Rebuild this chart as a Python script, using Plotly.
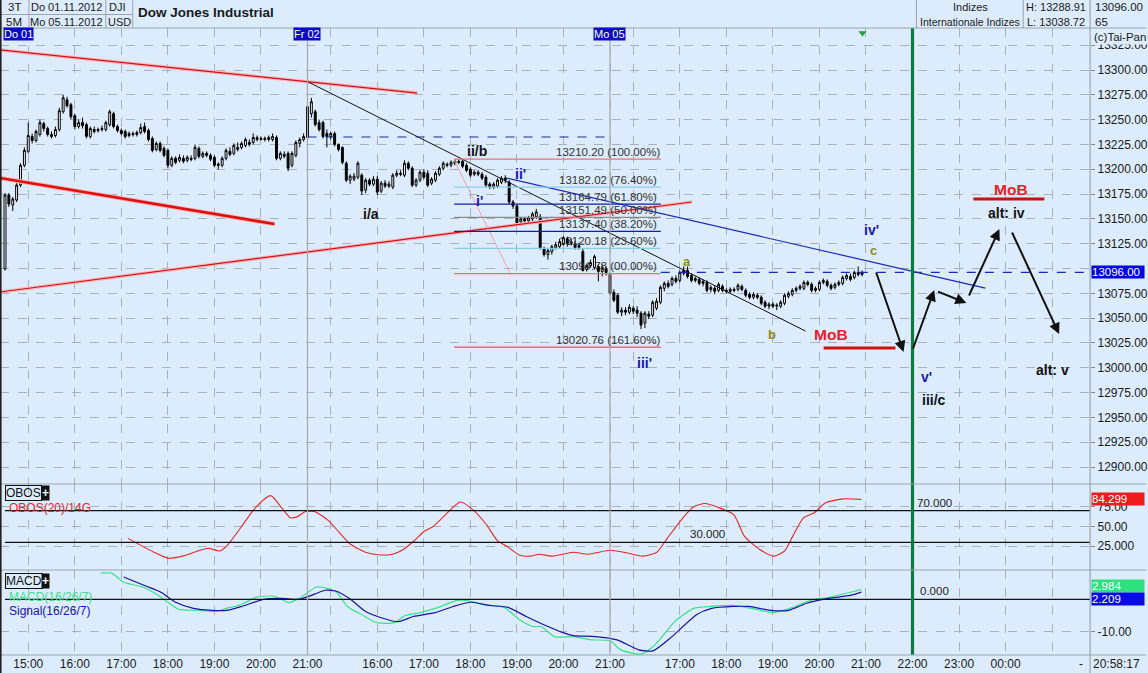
import plotly.graph_objects as go

# ======================= DATA =======================
# 5-minute bars, index 0 = Do 01.11.2012 14:30 ; 78 bars per session
D1_OPEN = [13099.5,13174,13164,13169,13184,13204,13218,13233,13229,13235,13246,13241,13235,13234,13240,13258,13270,13265,13254,13243,
           13247,13245,13233,13240,13239,13240,13240,13245,13256,13243,13239,13238,13234,13236,13235,13237,13243,13239,13231,13220,
           13226,13221,13219,13204,13211,13209,13211,13209,13211,13211,13221,13213,13216,13214,13212,13205,13204,13211,13218,13216,
           13222,13222,13224,13227,13227,13232,13230,13231,13230,13230,13232,13211,13215,13216,13204,13214,13226,13230]
D1_HIGH = [13176,13176,13172,13186,13206,13222,13247,13236,13240,13250,13248,13243,13238,13243,13262,13275,13273,13267,13256,13250,
           13252,13247,13243,13243,13242,13244,13249,13260,13258,13245,13241,13240,13238,13238,13239,13246,13247,13241,13233,13228,
           13228,13223,13221,13213,13213,13215,13214,13214,13214,13225,13223,13218,13218,13216,13214,13207,13213,13221,13222,13226,
           13227,13228,13232,13230,13236,13234,13233,13233,13234,13236,13234,13218,13218,13218,13218,13229,13232,13236]
D1_LOW = [13098,13162,13158,13167,13182,13202,13216,13226,13227,13233,13238,13233,13231,13232,13238,13256,13262,13250,13240,13241,
          13241,13231,13231,13236,13237,13238,13238,13243,13241,13237,13234,13231,13232,13233,13233,13235,13236,13228,13217,13218,
          13217,13212,13201,13202,13205,13207,13206,13207,13208,13209,13211,13211,13212,13208,13202,13200,13202,13209,13213,13214,
          13218,13220,13222,13223,13225,13228,13229,13228,13228,13228,13209,13209,13211,13198,13202,13212,13222,13228]
D1_CLOSE = [13174,13165,13170,13184,13204,13219,13234,13229,13238,13247,13241,13235,13233,13240,13259,13272,13264,13253,13243,13247,
            13244,13233,13241,13238,13240,13241,13247,13258,13243,13239,13236,13233,13236,13235,13237,13242,13238,13230,13219,13226,
            13219,13214,13204,13211,13207,13212,13208,13212,13210,13222,13213,13216,13214,13210,13204,13204,13211,13219,13215,13224,
            13220,13226,13230,13225,13232,13230,13231,13230,13232,13233,13211,13216,13213,13201,13216,13227,13230,13233]

D2_OPEN = [13232,13256,13258,13247,13247,13236,13233,13236,13225,13222,13206,13189,13190,13192,13194,13179,13189,13185,13190,13178,
           13186,13183,13182,13194,13196,13194,13206,13201,13184,13189,13197,13196,13186,13189,13195,13201,13205,13204,13206,13208,
           13208,13204,13200,13195,13197,13195,13192,13185,13182,13183,13187,13191,13187,13167,13163,13147,13150,13148,13150,13152,
           13152,13120,13114,13117,13121,13122,13125,13130,13125,13125,13121,13117,13099,13103,13101,13102,13097,13100]
D2_HIGH = [13289,13272,13260,13250,13249,13240,13238,13238,13226,13223,13208,13195,13196,13208,13196,13191,13191,13193,13193,13188,
           13189,13188,13196,13199,13199,13209,13208,13203,13191,13199,13200,13199,13192,13198,13203,13208,13207,13209,13210,13210,
           13210,13206,13202,13199,13199,13197,13194,13187,13187,13191,13193,13194,13189,13169,13165,13152,13152,13153,13157,13160,
           13155,13122,13120,13124,13127,13130,13133,13132,13130,13128,13126,13120,13105,13109,13114,13104,13104,13102]
D2_LOW = [13230,13252,13243,13238,13231,13222,13230,13223,13218,13205,13187,13185,13188,13190,13174,13176,13183,13183,13174,13176,
          13181,13181,13180,13192,13193,13192,13199,13182,13182,13187,13190,13182,13184,13187,13193,13199,13202,13202,13204,13205,
          13201,13197,13192,13193,13193,13189,13182,13180,13180,13181,13185,13186,13165,13160,13144,13145,13146,13146,13148,13150,
          13119,13112,13109,13114,13119,13120,13123,13122,13123,13119,13119,13097,13097,13101,13099,13087,13092,13093]
D2_CLOSE = [13263,13268,13245,13240,13233,13233,13236,13225,13220,13207,13189,13193,13193,13206,13178,13189,13185,13190,13177,13186,
            13183,13185,13194,13196,13195,13206,13201,13184,13189,13197,13192,13184,13190,13196,13201,13206,13204,13207,13208,13207,
            13203,13199,13194,13197,13195,13191,13184,13182,13185,13189,13191,13189,13167,13163,13146,13150,13148,13151,13155,13157,
            13121,13114,13118,13122,13124,13127,13131,13125,13127,13121,13123,13098,13103,13106,13112,13097,13101,13096]

D3_OPEN = [13094,13076,13073,13056,13058,13056,13060,13058,13055,13045,13054,13053,13060,13066,13080,13085,13084,13090,13088,13095,
           13098,13093,13088,13089,13085,13086,13079,13080,13078,13082,13078,13077,13079,13079,13082,13078,13074,13071,13073,13071,
           13066,13062,13064,13062,13062,13065,13072,13074,13078,13080,13080,13086,13084,13078,13079,13086,13087,13083,13081,13084,
           13085,13090,13092,13091,13096,13094]
D3_HIGH = [13096,13079,13075,13061,13061,13064,13062,13062,13057,13057,13057,13068,13070,13083,13087,13088,13092,13093,13098,13102,
           13102,13095,13092,13091,13089,13088,13083,13083,13086,13084,13080,13081,13081,13085,13084,13080,13076,13076,13075,13073,
           13068,13066,13066,13065,13068,13075,13077,13080,13082,13084,13088,13088,13086,13082,13088,13090,13089,13085,13086,13088,
           13093,13095,13095,13098,13102,13098]
D3_LOW = [13073,13066,13054,13052,13053,13054,13054,13051,13039,13040,13049,13051,13058,13064,13077,13080,13082,13085,13086,13093,
          13090,13086,13086,13083,13082,13076,13076,13074,13076,13076,13075,13075,13076,13077,13077,13071,13069,13069,13069,13063,
          13060,13059,13060,13058,13060,13063,13070,13072,13076,13078,13078,13082,13076,13076,13077,13084,13081,13078,13079,13082,
          13083,13088,13087,13089,13092,13092]
D3_CLOSE = [13075,13068,13056,13058,13056,13061,13057,13055,13043,13055,13052,13066,13067,13081,13085,13082,13090,13087,13096,13098,
            13092,13088,13090,13085,13087,13078,13081,13077,13084,13078,13077,13079,13078,13083,13079,13073,13071,13074,13071,13065,
            13062,13064,13062,13063,13066,13073,13075,13078,13080,13082,13086,13084,13078,13080,13086,13088,13083,13080,13084,13086,
            13091,13093,13089,13096,13094,13096]

OPEN = D1_OPEN + D2_OPEN + D3_OPEN
HIGH = D1_HIGH + D2_HIGH + D3_HIGH
LOW = D1_LOW + D2_LOW + D3_LOW
CLOSE = D1_CLOSE + D2_CLOSE + D3_CLOSE
N = min(len(OPEN), len(HIGH), len(LOW), len(CLOSE))
BARS = list(range(N))

# time axis ticks (bar index -> label)
TICK_BARS = [6, 18, 30, 42, 54, 66, 78, 84, 96, 108, 120, 132, 144, 156, 162, 174, 186, 198, 210, 222, 234, 246, 258, 270]
TICK_TEXT = ['15:00', '16:00', '17:00', '18:00', '19:00', '20:00', '21:00', '', '16:00', '17:00', '18:00', '19:00', '20:00',
             '21:00', '', '17:00', '18:00', '19:00', '20:00', '21:00', '22:00', '23:00', '00:00', '']
DAY_BARS = [0, 78, 156]
DAY_LABELS = ['Do 01', 'Fr 02', 'Mo 05']
CLOSE_BAR = 234  # 22:00 session close (green line)

# OBOS(20)/14G
OBOS_X = [31.7, 34.5, 38.4, 42.0, 45.8, 49.7, 52.5, 55.3, 57.1, 61.0, 64.6, 68.5, 71.3, 73.6, 75.4, 77.5, 79.8, 83.4, 86.2,
          89.1, 92.9, 96.8, 99.9, 102.4, 105.3, 108.1, 110.4, 113.8, 117.4, 120.7, 124.1, 126.9, 129.7, 132.6, 135.4, 137.7,
          141.1, 146.5, 150.3, 156.0, 159.6, 164.5, 168.1, 170.9, 174.8, 177.6, 180.4, 184.0, 187.9, 190.7, 194.6, 198.2,
          201.0, 203.1, 205.9, 208.7, 211.6, 216.2, 220.8]
OBOS_Y = [35, 27.5, 17.5, 10, 12.5, 19, 22.5, 19, 25, 50, 74, 89, 74, 61, 62.5, 69, 69, 57.5, 42.5,
          27.5, 17.5, 14, 15, 20, 31, 44, 50, 66, 81, 71, 52.5, 32.5, 24, 14, 12.5, 15,
          12.5, 17.5, 15, 20, 17.5, 12.5, 17.5, 36, 61, 75, 79, 74, 65, 37.5, 21, 12.5,
          19, 37.5, 61, 67.5, 80, 85, 84.299]

# MACD(16/26/7) and Signal
MACD_X = [24.7, 27.5, 30.6, 35.5, 39.1, 42.0, 44.8, 49.7, 54.3, 57.1, 61.0, 64.6, 69.0, 71.3, 73.1, 75.9, 78.2, 80.3, 83.1,
          85.5, 88.3, 91.9, 95.8, 100.4, 103.2, 107.1, 111.7, 116.6, 120.2, 123.0, 128.7, 132.6, 136.2, 138.2, 141.8, 146.5,
          151.1, 156.0, 158.8, 164.0, 167.6, 172.7, 177.6, 182.2, 187.9, 193.6, 198.2, 203.1, 207.7, 212.4, 218.0, 220.8]
MACD_Y = [8.1, 8.1, 5.3, 3.8, 1.6, -0.9, -3.1, -3.4, -3.7, -2.8, -1.6, 0.6, 1.0, 0.0, -1.0, 0.3, 2.2, 3.8, 3.4,
          2.2, -2.2, -4.7, -7.2, -7.2, -5.0, -4.1, -2.5, -0.3, -0.6, -1.6, -2.5, -6.2, -8.4, -8.4, -11.6, -11.5,
          -12.5, -12.8, -15.6, -16.9, -14.1, -6.9, -2.8, -2.2, -1.9, -3.1, -4.1, -2.5, -0.3, 0.6, 2.2, 2.984]
SIG_X = [30.6, 36.3, 40.2, 44.0, 48.6, 53.3, 57.1, 61.0, 66.7, 71.3, 75.9, 79.8, 82.6, 85.5, 89.1, 92.9, 96.8, 101.4,
         105.3, 110.9, 115.6, 120.2, 125.1, 129.7, 134.4, 140.0, 143.9, 146.5, 152.1, 157.8, 163.4, 167.1, 171.9, 178.4,
         182.2, 187.9, 191.8, 197.4, 202.1, 206.7, 212.4, 218.0, 220.8]
SIG_Y = [6.9, 4.1, 2.2, -0.9, -2.8, -3.4, -3.4, -2.2, 0.0, 0.3, 0.0, 1.6, 2.8, 2.5, 0.0, -3.7, -5.6, -6.9,
         -5.3, -4.1, -2.2, -0.9, -1.9, -2.5, -5.3, -8.4, -10.3, -11.2, -11.5, -12.5, -15.6, -15.9, -11.6, -4.7,
         -2.8, -2.2, -2.2, -3.4, -3.4, -1.2, 0.3, 1.2, 2.209]

# Fibonacci levels
FIB_LEVELS = [13210.20, 13182.02, 13164.79, 13151.49, 13137.40, 13120.18, 13094.78, 13020.76]
FIB_PCT = ['100.00%', '76.40%', '61.80%', '50.00%', '38.20%', '23.60%', '00.00%', '161.60%']
FIB_COLORS = ['#e8707c', '#8ccbee', '#1020a8', '#8a8a8a', '#1020a8', '#8ccbee', '#e8707c', '#e0506a']
FIB_BARS = (115.8, 169.1)
FIB_LABEL_BAR = 155.5

# drawn trend lines: (bar0, price0, bar1, price1)
RED_UPPER = (-1.3, 13320.2, 106.3, 13276.8)
RED_THICK = (-1.3, 13191.2, 69.5, 13144.8)
RED_RISING = (-1.3, 13076.3, 177.1, 13167.0)
BLACK_DOWN = (78.2, 13287.9, 206.4, 13037.0)
BLUE_DOWN = (129.2, 13191.2, 252.8, 13080.3)
PINK_DIAG = (115.8, 13209.3, 130.5, 13093.4)
DASH_HIGH = (78, 13232.5, 156, 13232.5)
LAST_PRICE = 13096.00
LAST_FROM_BAR = 169.1
MOB_LOW = (211.1, 229.6, 13019.9)
MOB_HIGH = (249.7, 268.0, 13170.0)

# wave labels: (text, bar, price, colour, size)
WAVE_LABELS = [
    ('ii/b', 121.8, 13218.4, '#111111', 14), ('i/a', 94.5, 13154.9, '#111111', 14),
    ("i'", 122.3, 13168.0, '#1818b0', 14), ("ii'", 132.8, 13195.2, '#1818b0', 14),
    ("iii'", 165.0, 13004.8, '#1818b0', 14), ('a', 175.8, 13107.5, '#8c8c14', 13),
    ('b', 197.7, 13034.0, '#8c8c14', 13), ('c', 223.9, 13118.6, '#8c8c14', 13),
    ("iv'", 223.4, 13138.8, '#1818b0', 14), ('MoB', 212.9, 13034.0, '#e8202a', 15.5),
    ("v'", 237.6, 12990.7, '#1818b0', 14), ('iii/c', 239.6, 12967.5, '#111111', 14),
    ('MoB', 259.5, 13179.1, '#e8202a', 15.5), ('alt: iv', 258.2, 13155.9, '#111111', 14),
    ('alt: v', 270.0, 12997.7, '#111111', 14),
]
# projected path arrows: (bar_from, price_from, bar_to, price_to)
ARROWS = [
    (224.5, 13097.5, 231.7, 13015.9), (234.0, 13017.9, 239.6, 13078.3), (240.2, 13077.3, 247.9, 13065.2),
    (248.4, 13071.3, 256.4, 13139.8), (259.5, 13137.8, 271.8, 13034.0),
]

# ======================= LAYOUT =======================
W, H = 1148, 673
BG = '#dcecfc'
FONT = 'Liberation Sans, Arial, sans-serif'
GRID = '#a9b1ba'
AXIS_PX = 1092
PXB = 3.885  # pixels per bar
X0 = 5.0     # pixel of bar 0
XMIN = -X0 / PXB
XMAX = (AXIS_PX - X0) / PXB


def PX(p):
    return p / W


def PY(p):
    return 1 - p / H


def price_at(py):
    return 13300 - (py - 70) / 0.9925


fig = go.Figure()

shapes = []


def seg(x0, y0, x1, y1, color, width, dash='solid', xref='x', yref='y'):
    shapes.append(dict(type='line', x0=x0, y0=y0, x1=x1, y1=y1, xref=xref, yref=yref,
                       line=dict(color=color, width=width, dash=dash)))


# trend lines (with soft halo like the original)
for ln in (RED_UPPER, RED_RISING):
    seg(ln[0], ln[1], ln[2], ln[3], '#ffb6b6', 3.5)
    seg(ln[0], ln[1], ln[2], ln[3], '#cc1020', 1.2)
seg(*RED_THICK, '#ffb0b0', 4.5)
seg(*RED_THICK, '#dd1010', 2.6)
seg(*BLACK_DOWN, '#111111', 1)
seg(*BLUE_DOWN, '#1a2ab0', 1.2)
seg(*PINK_DIAG, '#f0a0a0', 1)
seg(*DASH_HIGH, '#1a2a90', 1, dash='dash')
seg(LAST_FROM_BAR, LAST_PRICE, XMAX, LAST_PRICE, '#1a2ab0', 1.2, dash='dash')
for lv, col in zip(FIB_LEVELS, FIB_COLORS):
    seg(FIB_BARS[0], lv, FIB_BARS[1], lv, col, 1.3)
seg(MOB_LOW[0], MOB_LOW[2], MOB_LOW[1], MOB_LOW[2], '#cc1010', 3)
seg(MOB_HIGH[0], MOB_HIGH[2], MOB_HIGH[1], MOB_HIGH[2], '#cc1010', 3)

# indicator level lines
seg(PX(5), 70, PX(AXIS_PX), 70, '#111111', 1.2, xref='paper', yref='y2')
seg(PX(5), 30, PX(AXIS_PX), 30, '#111111', 1.2, xref='paper', yref='y2')
seg(PX(5), 0, PX(AXIS_PX), 0, '#111111', 1.2, xref='paper', yref='y3')

# day separators and session close line
for b in DAY_BARS[1:]:
    seg(b, PY(28), b, PY(655), '#a8a8a8', 1.2, yref='paper')
seg(CLOSE_BAR, PY(28), CLOSE_BAR, PY(655), '#0e7a40', 3.2, yref='paper')

# frame / header borders
BORDER = '#9aa4ae'
for yy in (28, 484, 570, 655):
    seg(0, PY(yy), 1, PY(yy), BORDER, 1.2, xref='paper', yref='paper')
seg(PX(AXIS_PX), 1, PX(AXIS_PX), 0, BORDER, 1.2, xref='paper', yref='paper')
for xx in (29, 106, 133, 918, 1025):
    seg(PX(xx), 1, PX(xx), PY(28), BORDER, 1, xref='paper', yref='paper')
seg(0, PY(14.5), PX(133), PY(14.5), BORDER, 1, xref='paper', yref='paper')
seg(PX(0.8), 1, PX(0.8), 0, '#222222', 1.6, xref='paper', yref='paper')

# candles
fig.add_trace(go.Candlestick(
    x=BARS, open=OPEN[:N], high=HIGH[:N], low=LOW[:N], close=CLOSE[:N],
    increasing=dict(line=dict(color='#000000', width=1), fillcolor='#ffffff'),
    decreasing=dict(line=dict(color='#000000', width=1), fillcolor='#000000'),
    whiskerwidth=0, xaxis='x', yaxis='y', hoverinfo='skip', showlegend=False))

# small green marker on top
fig.add_trace(go.Scatter(x=[221.1], y=[price_at(33)], mode='markers', xaxis='x', yaxis='y',
                         marker=dict(symbol='triangle-down', size=7, color='#20a040'), hoverinfo='skip'))

# indicators
fig.add_trace(go.Scatter(x=OBOS_X, y=OBOS_Y, mode='lines', xaxis='x2', yaxis='y2',
                         line=dict(color='#e02828', width=1.1, shape='spline', smoothing=0.6), hoverinfo='skip'))
fig.add_trace(go.Scatter(x=MACD_X, y=MACD_Y, mode='lines', xaxis='x3', yaxis='y3',
                         line=dict(color='#3ae08c', width=1.2, shape='spline', smoothing=0.6), hoverinfo='skip'))
fig.add_trace(go.Scatter(x=SIG_X, y=SIG_Y, mode='lines', xaxis='x3', yaxis='y3',
                         line=dict(color='#1414a0', width=1.2, shape='spline', smoothing=0.6), hoverinfo='skip'))

ann = []


def text(t, x, y, size=11, color='#1a1a1a', xref='paper', yref='paper', xanchor='center', yanchor='middle', **kw):
    ann.append(dict(text=t, x=x, y=y, xref=xref, yref=yref, xanchor=xanchor, yanchor=yanchor,
                    showarrow=False, font=dict(family=FONT, size=size, color=color), **kw))


# header
text('3T', PX(14.5), PY(7.5), 11.5)
text('5M', PX(14.5), PY(21.5), 11.5)
text('Do 01.11.2012', PX(67), PY(7.5), 11)
text('Mo 05.11.2012', PX(67), PY(21.5), 11)
text('DJI', PX(118), PY(7.5), 11)
text('USD', PX(119.5), PY(21.5), 11)
text('<b>Dow Jones Industrial</b>', PX(136), PY(12), 13.5, xanchor='left')
text('Indizes', PX(972), PY(7.5), 11)
text('Internationale Indizes', PX(972), PY(21.5), 10.5)
text('H: 13288.91', PX(1058), PY(7.5), 11)
text('L: 13038.72', PX(1058), PY(21.5), 11)
text('13096.00', PX(1095), PY(7.5), 11.5, xanchor='left')
text('65', PX(1095), PY(21.5), 11.5, xanchor='left')

# day labels
for b, lab in zip(DAY_BARS, DAY_LABELS):
    cx = X0 + b * PXB
    if b == 0:
        text(lab, PX(3), PY(34), 11, '#ffffff', xanchor='left', bgcolor='#0a0ac8', borderpad=0)
    else:
        text(lab, PX(cx), PY(34), 11, '#ffffff', bgcolor='#0a0ac8', borderpad=0)

text('(c)Tai-Pan', PX(1094), PY(37), 11.5, xanchor='left', bgcolor=BG)

# fib labels
for lv, pct in zip(FIB_LEVELS, FIB_PCT):
    text(f'{lv:.2f} ({pct})', FIB_LABEL_BAR, lv + 7.5, 11.5, '#333333', xref='x', yref='y')

# wave labels
for t, bx, pr, col, sz in WAVE_LABELS:
    text(f'<b>{t}</b>', bx, pr, sz, col, xref='x', yref='y')

# arrows
for bx0, p0, bx1, p1 in ARROWS:
    ann.append(dict(x=bx1, y=p1, ax=bx0, ay=p0, xref='x', yref='y', axref='x', ayref='y', text='',
                    showarrow=True, arrowhead=2, arrowsize=1.1, arrowwidth=2, arrowcolor='#111111'))

# last value boxes on the axes
text(f'{LAST_PRICE:.2f}', PX(AXIS_PX + 1), LAST_PRICE, 11.5, '#ffffff', yref='y', xanchor='left',
     bgcolor='#0000e0', width=52, align='left', borderpad=0)
text(f'{OBOS_Y[-1]:.3f}', PX(AXIS_PX + 1), OBOS_Y[-1], 11.5, '#ffffff', yref='y2', xanchor='left',
     bgcolor='#ee1c1c', width=52, align='left', borderpad=0)
text(f'{MACD_Y[-1]:.3f}', PX(AXIS_PX + 1), PY(586), 11.5, '#ffffff', xanchor='left',
     bgcolor='#2ee07e', width=52, align='left', borderpad=0)
text(f'{SIG_Y[-1]:.3f}', PX(AXIS_PX + 1), PY(599), 11.5, '#ffffff', xanchor='left',
     bgcolor='#0a0ae6', width=52, align='left', borderpad=0)

# level labels
text('70.000', 234.6, 70, 11.5, '#222222', xref='x', yref='y2', xanchor='left', yanchor='bottom')
text('30.000', 176.0, 30, 11.5, '#222222', xref='x', yref='y2', xanchor='left', yanchor='bottom')
text('0.000', 235.5, 0, 11.5, '#222222', xref='x', yref='y3', xanchor='left', yanchor='bottom')

# panel captions
text('OBOS', PX(5), PY(493), 12, '#111111', xanchor='left', bordercolor='#111111', borderwidth=1, borderpad=0)
text('<b>+</b>', PX(41), PY(493), 12, '#ffffff', xanchor='left', bgcolor='#111111', borderpad=0)
text('OBOS(20)/14G', PX(7), PY(508), 12, '#e02828', xanchor='left')
text('MACD', PX(5), PY(581), 12, '#111111', xanchor='left', bordercolor='#111111', borderwidth=1, borderpad=0)
text('<b>+</b>', PX(41), PY(581), 12, '#ffffff', xanchor='left', bgcolor='#111111', borderpad=0)
text('MACD(16/26/7)', PX(7), PY(597), 12, '#3ae08c', xanchor='left')
text('Signal(16/26/7)', PX(7), PY(611), 12, '#1414b0', xanchor='left')

# bottom-right clock
text('-', PX(1083), PY(664), 12)
text('20:58:17', PX(1118), PY(664), 12)

xcommon = dict(range=[XMIN, XMAX], tickvals=TICK_BARS, ticktext=TICK_TEXT, showgrid=True, gridcolor=GRID,
               griddash='dash', gridwidth=1, zeroline=False, showline=False, ticks='', fixedrange=True,
               domain=[0, PX(AXIS_PX)])
price_ticks = list(range(12900, 13326, 25))
price_text = ['' if v == 13100 else f'{v:.2f}' for v in price_ticks]  # hidden behind the last-price box

fig.update_layout(
    width=W, height=H, autosize=False, margin=dict(l=0, r=0, t=0, b=0, pad=0),
    paper_bgcolor=BG, plot_bgcolor=BG, showlegend=False,
    font=dict(family=FONT, size=11, color='#1a1a1a'),
    xaxis=dict(**xcommon, anchor='y', showticklabels=False, rangeslider=dict(visible=False)),
    xaxis2=dict(**xcommon, anchor='y2', showticklabels=False, matches='x'),
    xaxis3=dict(**xcommon, anchor='y3', showticklabels=True, matches='x',
                tickfont=dict(family=FONT, size=12, color='#1a1a1a')),
    yaxis=dict(domain=[PY(484), PY(28)], range=[price_at(484), price_at(28)], side='right', anchor='x',
               tickvals=price_ticks, ticktext=price_text, ticks='outside', ticklen=4,
               tickcolor='#888888', showgrid=True, gridcolor=GRID, griddash='dash', zeroline=False,
               showline=False, tickfont=dict(family=FONT, size=12, color='#1a1a1a'), fixedrange=True),
    yaxis2=dict(domain=[PY(570), PY(484)], range=[-5, 103.75], side='right', anchor='x2',
                tickvals=[25, 50, 75], ticktext=['25.000', '50.00', '75.00'], ticks='outside', ticklen=4,
                tickcolor='#888888', showgrid=True, gridcolor=GRID, griddash='dash', zeroline=False,
                showline=False, tickfont=dict(family=FONT, size=12, color='#1a1a1a'), fixedrange=True),
    yaxis3=dict(domain=[PY(655), PY(570)], range=[-17.19, 9.06], side='right', anchor='x3',
                tickvals=[-10], ticktext=['-10.00'], ticks='outside', ticklen=4,
                tickcolor='#888888', showgrid=True, gridcolor=GRID, griddash='dash', zeroline=False,
                showline=False, tickfont=dict(family=FONT, size=12, color='#1a1a1a'), fixedrange=True),
    shapes=shapes, annotations=ann,
)

fig.write_html('out.html', config={'displayModeBar': False},
               post_script="document.body.style.margin='0';document.body.style.overflow='hidden';")
